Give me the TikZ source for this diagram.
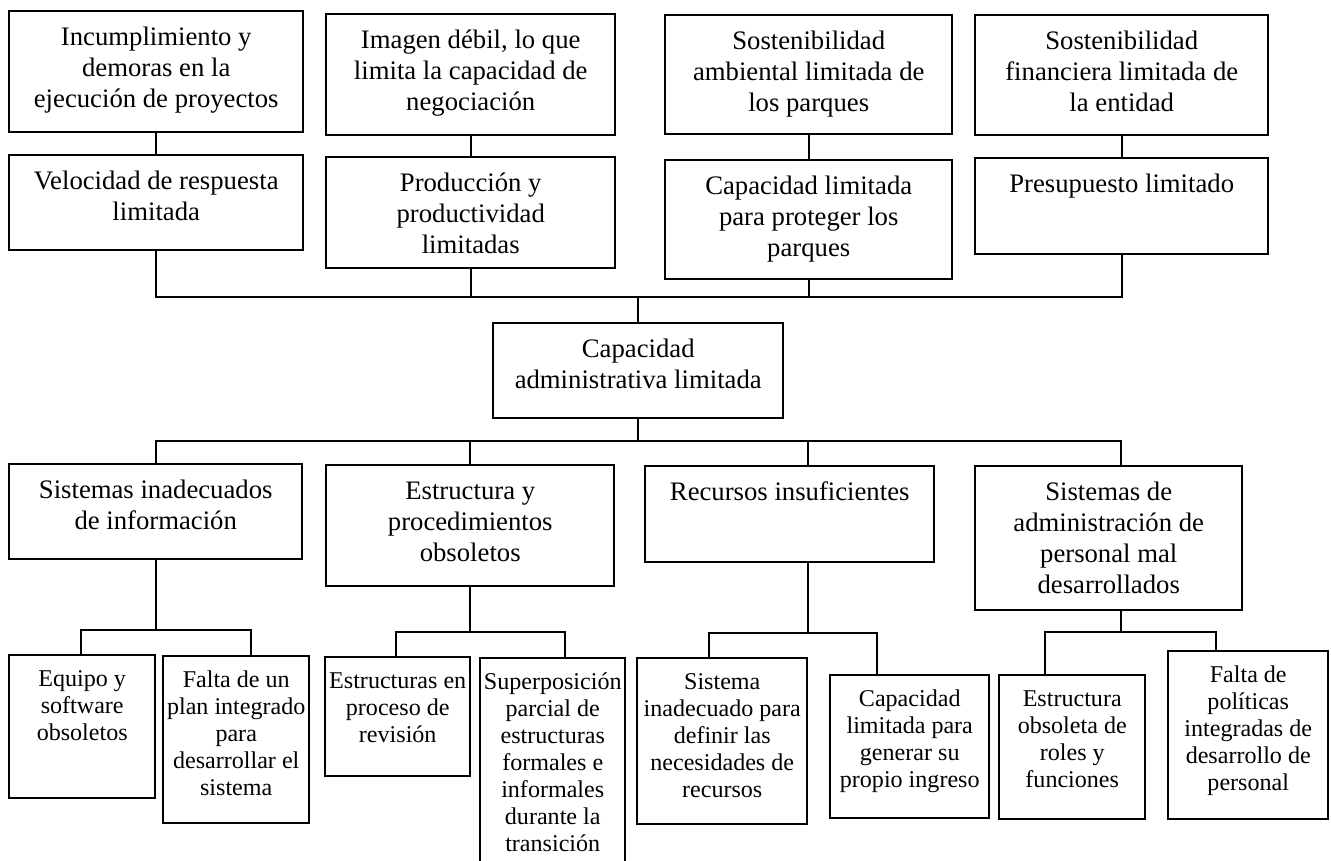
\documentclass[tikz,border=0pt]{standalone}
\usepackage{fontspec}
\setmainfont{Liberation Serif}
\newlength{\pxunit}
\setlength{\pxunit}{0.02cm}
% box of given width/height (in px), text set from the top
\newcommand{\cellbox}[3]{\parbox[c][#2\pxunit][t]{#1\pxunit}{\centering\rule{0pt}{1.3em}#3\par}}

\begin{document}
\begin{tikzpicture}[x=0.02cm, y=-0.02cm,
    box/.style={draw, line width=1.4pt, inner sep=0pt, anchor=north west, font=\fontsize{15.2}{17.6}\selectfont},
    smallbox/.style={box, font=\fontsize{13.7}{15.4}\selectfont},
    link/.style={line width=1.2pt}]

    \useasboundingbox (0,0) rectangle (1331,860);
    \clip (0,0) rectangle (1331,860);

    % --------------------------------------------------------- %
    % ------------- effects (top rows)
    % --------------------------------------------------------- %
    \node[box] (a1) at (8,10) {\cellbox{294}{121}{Incumplimiento y\\ demoras en la\\ ejecución de proyectos}};
    \node[box] (a2) at (8,154) {\cellbox{294}{95}{Velocidad de respuesta\\ limitada}};
    \draw[link] (a1.south) -- (a2.north);
    % --- B
    \node[box] (b1) at (325,13) {\cellbox{289}{121}{Imagen débil, lo que\\ limita la capacidad de\\ negociación}};
    \node[box] (b2) at (325,156) {\cellbox{289}{111}{Producción y\\ productividad\\ limitadas}};
    \draw[link] (b1.south) -- (b2.north);
    % --- C
    \node[box] (c1) at (664,14) {\cellbox{287}{119}{Sostenibilidad\\ ambiental limitada de\\ los parques}};
    \node[box] (c2) at (664,159) {\cellbox{287}{119}{Capacidad limitada\\ para proteger los\\ parques}};
    \draw[link] (c1.south) -- (c2.north);
    % --- D
    \node[box] (d1) at (974,14) {\cellbox{293}{120}{Sostenibilidad\\ financiera limitada de\\ la entidad}};
    \node[box] (d2) at (974,157) {\cellbox{293}{96}{Presupuesto limitado}};
    \draw[link] (d1.south) -- (d2.north);

    % --------------------------------------------------------- %
    % ------------- central problem
    % --------------------------------------------------------- %
    \node[box] (core) at (492,322) {\cellbox{290}{95}{Capacidad\\ administrativa limitada}};
    \coordinate (topbus) at (637,297);
    \draw[link] (a2.south) |- (topbus) -| (d2.south);
    \draw[link] (b2.south) -- (b2.south |- topbus);
    \draw[link] (c2.south) -- (c2.south |- topbus);
    \draw[link] (core.north |- topbus) -- (core.north);

    % --------------------------------------------------------- %
    % ------------- causes
    % --------------------------------------------------------- %
    \node[box] (e1) at (8,463) {\cellbox{293}{95}{Sistemas inadecuados\\ de información}};
    \node[box] (f1) at (325,464) {\cellbox{288}{121}{Estructura y\\ procedimientos\\ obsoletos}};
    \node[box] (g1) at (644,465) {\cellbox{289}{96}{Recursos insuficientes}};
    \node[box] (h1) at (974,465) {\cellbox{267}{144}{Sistemas de\\ administración de\\ personal mal\\ desarrollados}};
    \coordinate (midbus) at (637,441);
    \draw[link] (core.south) -- (core.south |- midbus);
    \draw[link] (e1.north) |- (midbus) -| ([xshift=12\pxunit]h1.north);
    \draw[link] (f1.north) -- (f1.north |- midbus);
    \draw[link] ([xshift=18\pxunit]g1.north) -- ([xshift=18\pxunit]g1.north |- midbus);

    % --------------------------------------------------------- %
    % ------------- sub-causes
    % --------------------------------------------------------- %
    % --- E branch
    \node[smallbox] (e2a) at (8,654) {\cellbox{146}{143}{Equipo y\\ software\\ obsoletos}};
    \node[smallbox] (e2b) at (162,655) {\cellbox{146}{167}{Falta de un\\ plan integrado\\ para\\ desarrollar el\\ sistema}};
    \coordinate (el) at (81,630);
    \coordinate (er) at (251,630);
    \draw[link] (e1.south) -- (e1.south |- el);
    \draw[link] (el |- e2a.north) -- (el) -- (er) -- (er |- e2b.north);
    % --- F branch
    \node[smallbox] (f2a) at (324,656) {\cellbox{145}{119}{Estructuras en\\ proceso de\\ revisión}};
    \node[smallbox] (f2b) at (479,657) {\cellbox{145}{215}{Superposición\\ parcial de\\ estructuras\\ formales e\\ informales\\ durante la\\ transición}};
    \coordinate (fl) at (396,632);
    \coordinate (fr) at (565,632);
    \draw[link] (f1.south) -- (f1.south |- fl);
    \draw[link] (fl |- f2a.north) -- (fl) -- (fr) -- (fr |- f2b.north);
    % --- G branch
    \node[smallbox] (g2a) at (636,657) {\cellbox{170}{166}{Sistema\\ inadecuado para\\ definir las\\ necesidades de\\ recursos}};
    \node[smallbox] (g2b) at (829,674) {\cellbox{159}{143}{Capacidad\\ limitada para\\ generar su\\ propio ingreso}};
    \coordinate (gl) at (709,633);
    \coordinate (gr) at (877,633);
    \draw[link] ([xshift=18\pxunit]g1.south) -- ([xshift=18\pxunit]g1.south |- gl);
    \draw[link] (gl |- g2a.north) -- (gl) -- (gr) -- (gr |- g2b.north);
    % --- H branch
    \node[smallbox] (h2a) at (998,674) {\cellbox{146}{144}{Estructura\\ obsoleta de\\ roles y\\ funciones}};
    \node[smallbox] (h2b) at (1167,650) {\cellbox{160}{168}{Falta de\\ políticas\\ integradas de\\ desarrollo de\\ personal}};
    \coordinate (hl) at (1045,632);
    \coordinate (hr) at (1216,632);
    \draw[link] ([xshift=12\pxunit]h1.south) -- ([xshift=12\pxunit]h1.south |- hl);
    \draw[link] (hl |- h2a.north) -- (hl) -- (hr) -- (hr |- h2b.north);

  \end{tikzpicture}
\end{document}
